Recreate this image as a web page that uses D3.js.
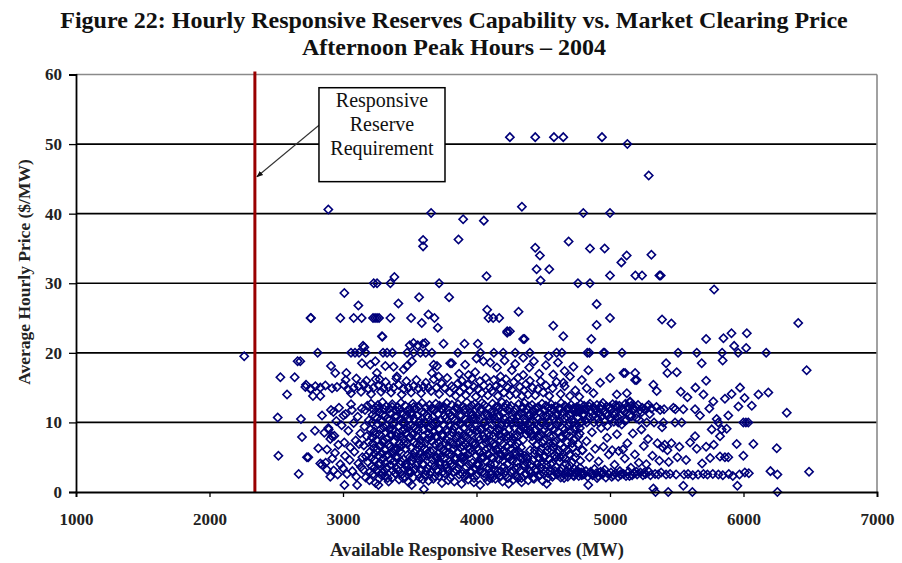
<!DOCTYPE html>
<html>
<head>
<meta charset="utf-8">
<script src="https://cdn.jsdelivr.net/npm/d3@7"></script>
<style>
  body { margin: 0; background: #fff; }
  text { font-family: "Liberation Serif", "Times New Roman", serif; }
</style>
</head>
<body>
<div id="chart"></div>
<script>
// values: [available reserves (MW), price ($/MW)]
var highPrices = [
  [4250,51],[4440,51],[4580,51],[4650,51],[4940,51],[5130,50],[5290,45.5],
  [2890,40.6],[3660,40.1],[3900,39.2],[4055,39],[4340,41],[3600,36.2],[3600,35.3],[3865,36.3],
  [4440,35.1],[4475,34],[4690,36],[4450,32],[4545,32],[4480,30.4],[4075,31],[4800,40.1],[5000,40.1],
  [4850,35],[4960,35],[5125,34],[5085,33],[5310,34.1],[5000,31.1],[5190,31.1],[5240,31.1],[5370,31.1],
  [5380,31.1],[4760,30],[4850,30],[5780,29.1],[4900,27],[3230,30],[3255,30],[3355,30],[3385,30.9],
  [3720,30],[3010,28.6],[3115,26.8],[3415,27.1],[3570,28],[3795,28]
];
var midPrices = [
  [5000,25],[4900,24],[5390,24.8],[5460,24.2],[6410,24.3],[4650,22.4],[4860,22],[5720,22],[5850,22.1],
  [5910,22.8],[6025,22.8],[5930,21],[6020,20.7],[2760,25],[2980,25],[3080,25],[3140,25],[3225,25],
  [3240,25],[3255,25],[3270,25],[3355,25],[3510,25],[3590,24.3],[3640,25.5],[3685,25],[3710,23.6],
  [4080,26.2],[4090,25],[4125,25],[4170,25],[4315,25.9],[4230,23.1],[4250,23.1],[4350,22],[4575,23.9],
  [3295,22.3],[3160,20.8],[4230,22.9],[4360,22],[3910,21.3],[4010,21.3],[3292,22.4],[3150,21],
  [3500,21.1],[3560,21.1],[3528,21.4],[3599,21.3],[3616,21.4],[3753,21.3],
  [2260,19.5],[2810,20],[3860,20],[4030,20],[4130,20],[4200,20],[4290,20],[4400,20],[4600,20],
  [4640,20],[4830,20],[4846,20],[4951,20],[4960,20],[5090,20],[5510,20],[5650,20],[5840,20],[5960,20],
  [6170,20],[3060,20],[3090,20],[3120,20],[3170,20],[3300,20],[3330,20],[3370,20],[3480,20],[3530,20],
  [3580,20],[3620,20],[3666,20]
];
var upperBand = [
  [2910,18.1],[2942,17.1],[3025,17.1],[3142,18.5],[3204,18.3],[3242,18.8],[3254,17.1],[3317,18.1],
  [3379,18],[3454,17.6],[3479,18.1],[3516,18.8],[3679,18.3],[3704,18.1],[3803,18.5],[3274,16.2],
  [3404,16.6],[3716,16.6],[3666,17.1],[3816,18.5],[3915,18.3],[3990,17.2],[4052,18.8],[4103,18.6],
  [4153,17.9],[4210,18.9],[4265,17.5],[4290,18.4],[4350,16.8],[4395,17.9],[4430,18.8],[4470,17],
  [4520,18.2],[4575,16.9],[4610,18.6],[4660,17.4],[4700,16.6],[4726,18],[4838,17.5],[4789,16.1],
  [4826,14.9],[4926,15.7],[5001,16.4],[5113,17.1],[5200,16.1],[5126,14.2],[5051,14],[4876,14.2],
  [4651,15.7],[3870,17],[3940,16.8],[4180,16.6],[4000,19.2],[4350,19.3],[4540,19.5],[5101,17.1],
  [5188,17.1],[5188,16.1],[5325,15.4],[5350,14.5],[5150,13],[5420,18.5],[5430,17.1],[5500,17.2],
  [5687,18.5],[5844,18.9],[5720,16],[6473,17.5],[5774,13],[5861,13.4],[5911,14.1],[5974,15],
  [6112,14],[6186,14.3],[6008,13.5],[5580,13.6],[5640,15],[5530,14.4],[5700,14]
];
var band15 = [
  [2718,15.1],[2755,14.8],[2793,15.2],[2830,15],[2868,15.3],[2918,14.9],[2955,15.1],[3005,15.4],
  [3042,14.7],[3080,15],[3117,15.2],[3154,15.5],[3192,14.8],[3229,15],[3267,15.3],[3304,14.9],
  [3342,15.1],[3379,15],[3416,15.4],[3454,14.8],[3491,15],[3529,15.2],[3566,14.9],[3603,15.1],
  [3641,15],[3020,16.1],[3060,14.2],[3100,16.3],[3135,14.4],[3175,16],[3210,14.1],[3245,16.2],
  [3285,14.4],[3320,15.8],[3360,14.3],[3400,16.3],[3440,14],[3475,15.9],[3510,14.3],[3550,16.1],
  [3585,14.2],[3620,15.7],[3660,14.5],[3680,16.2],[3700,15],[3720,14.1],[3740,15.6],[3760,15],
  [3780,16.4],[3800,14.3],[3815,15.2],[3830,14.9],[3845,13.8],[3860,15.6],[3875,14.4],[3890,16],
  [3905,15],[3920,13.9],[3935,15.4],[3950,14.6],[3965,16.3],[3980,15.1],[3995,13.7],[4010,14.8],
  [4025,15.9],[4040,14.2],[4055,15.3],[4070,16.4],[4085,13.9],[4100,15],[4115,14.5],[4130,16.1],
  [4145,15.2],[4160,13.8],[4175,14.9],[4190,15.7],[4205,14.3],[4220,16.2],[4235,15],[4250,13.9],
  [4265,14.7],[4280,15.8],[4295,14.1],[4310,16.4],[4325,15.1],[4340,13.8],[4355,14.6],[4370,15.5],
  [4385,14],[4400,16],[4420,15],[4440,13.9],[4460,14.8],[4480,15.9],[4500,14.3],[4520,15.3],
  [4545,13.8],[4570,14.9],[4600,15.8],[4630,14.1],[4660,15.2],[4700,13.8],[4740,14.6],[4770,13.7]
];
var westSide = [
  [2511,10.7],[2516,5.2],[2531,16.5],[2581,14],[2638,16.5],[2660,18.8],[2680,18.8],[2668,2.6],
  [2685,10.5],[2693,7.9],[2723,15.4],[2730,5],[2740,5],[2757,25],[2760,14.8],[2775,13.8],[2830,13.8],
  [2843,11],[2843,3.9],[2790,8.8],[2815,6.3],[2830,4.1],[2880,3.2],[2905,2.2],[2893,9],[2918,8],
  [2860,8.5],[2870,4.2],[2880,6.1],[2890,9.2],[2905,7.6],[2910,11.8],[2920,4.8],[2930,3.1],
  [2935,8.1],[2940,5.6],[2950,10.2],[2960,2.5],[2965,6.8],[2970,12.1],[2980,4],[2990,9.6],[3011,1],
  [3000,3.4],[3010,7.1],[3015,5.2],[3020,11.2],[3030,2.6],[3040,8.8],[3050,4.6],[3055,6.4],[3060,12.6],
  [3070,3],[3080,9.9],[3085,5.8],[3106,1],[3095,7.4],[3100,2.2],[3110,10.8],[3115,4.1],[3120,6.9],
  [3130,8.4],[3135,3.6],[3140,12],[3145,5],[2928,11.5],[3003,11],[3067,11.8]
];
var denseCore = [
  [3152,3.2],[3156,6.7],[3161,9.4],[3165,11.8],[3170,2.1],[3173,5.1],[3178,8],[3182,12.4],[3187,4.3],[3190,7.2],[3194,10.3],[3198,1.7],
  [3202,5.8],[3206,9],[3210,12.7],[3214,3.7],[3218,7.9],[3222,11.1],[3226,2.6],[3229,6.3],[3233,8.7],[3237,4.6],[3241,10.8],[3244,1.3],[3248,12.1],[3236,5.5],
  [3252,7.4],[3255,3],[3259,9.8],[3262,12.5],[3266,5.2],[3270,1.9],[3273,8.3],[3277,11.4],[3281,4.1],[3284,6.8],[3288,10.1],[3292,2.8],[3295,12.9],[3298,7.1],[3265,1],
  [3301,4.8],[3305,9.3],[3308,11.9],[3312,2.3],[3316,6],[3320,8.6],[3323,12.3],[3327,3.5],[3331,7.7],[3334,10.6],[3338,5.4],[3342,1.5],[3345,9],[3348,12],[3318,4.2],
  [3351,6.5],[3355,3.9],[3358,11.2],[3362,8.1],[3366,2],[3369,12.6],[3373,5.7],[3377,9.7],[3380,4.4],[3384,7.3],[3388,10.9],[3391,2.7],[3395,6.1],[3398,11.7],[3370,8.9],
  [3402,3.3],[3405,8.4],[3409,12.2],[3412,5],[3416,9.5],[3420,1.8],[3423,7],[3427,10.4],[3431,4],[3434,12.8],[3438,6.6],[3441,2.5],[3445,8.8],[3448,11.3],[3425,5.9],
  [3451,7.6],[3455,4.7],[3458,10],[3462,2.2],[3466,12.4],[3469,6.2],[3473,8.5],[3477,3.6],[3480,11.6],[3484,5.3],[3487,9.2],[3491,1.4],[3495,7.8],[3498,12],[3476,4.1],
  [3502,3],[3506,9.6],[3509,6.4],[3513,11.5],[3515,1],[3516,4.5],[3520,8.2],[3523,12.7],[3527,2.1],[3531,7.1],[3534,10.5],[3538,5.6],[3545,9.1],[3548,3.8],[3530,12.2],
  [3552,6.9],[3556,11],[3559,4.2],[3562,8.9],[3566,2.6],[3570,12.3],[3573,5.5],[3577,10.2],[3580,7.5],[3584,3.1],[3588,9.8],[3591,12.8],[3595,5],[3598,1.8],[3575,6.7],
  [3602,8],[3605,4],[3609,11.4],[3612,6.3],[3616,2.4],[3620,9.9],[3623,12.1],[3627,5.2],[3631,7.6],[3634,3.4],[3638,10.7],[3641,1.6],[3645,8.4],[3648,12.5],[3606,0.4],[3625,6],
  [3652,5.9],[3656,9.3],[3659,2.9],[3662,12],[3666,7.3],[3670,4.6],[3673,10.8],[3677,1.9],[3680,8.6],[3684,11.7],[3688,3.7],[3691,6.8],[3695,12.7],[3698,5.1],[3672,9.6],
  [3702,3.2],[3705,7.9],[3709,11.2],[3712,5.5],[3716,9.1],[3720,2.3],[3723,12.4],[3727,6.5],[3731,4.3],[3734,10.3],[3738,8.2],[3741,1.3],[3745,11.9],[3748,6],[3725,3.9],
  [3752,9.7],[3756,4.8],[3759,12.2],[3762,2.7],[3766,7],[3770,10.6],[3773,5.8],[3777,12.8],[3780,3.5],[3784,8.7],[3788,1.7],[3791,6.6],[3795,11.3],[3798,4.4],[3776,9],
  [3802,7.2],[3805,2],[3809,10.9],[3812,5.3],[3816,12.5],[3820,8.5],[3823,3.8],[3827,11.6],[3831,6.2],[3834,1.5],[3838,9.4],[3841,4.7],[3845,12.1],[3848,7.7],[3826,6.9],
  [3852,3.1],[3856,10.1],[3859,5.7],[3862,12.6],[3866,8.1],[3870,2.5],[3873,11],[3877,6.4],[3880,4.1],[3884,9.8],[3888,1.2],[3891,7.4],[3895,12.3],[3898,5],[3872,8.8],
  [3902,9.2],[3905,4.5],[3909,11.8],[3912,2.2],[3916,6.9],[3920,10.4],[3923,3.6],[3927,12.9],[3931,7.8],[3934,5.4],[3938,1.8],[3941,9.9],[3945,12],[3948,6.1],[3922,8],
  [3952,5.6],[3956,11.4],[3959,2.8],[3962,8.3],[3966,12.4],[3970,4.2],[3973,7.1],[3977,10.7],[3980,1.4],[3984,6.7],[3988,12.7],[3991,3.3],[3995,9.5],[3998,5.2],[3974,11.1],
  [4002,2.4],[4005,8.9],[4009,12.2],[4012,6],[4016,3.9],[4020,10.5],[4023,7.5],[4027,1],[4031,11.7],[4034,4.9],[4038,9.1],[4041,12.8],[4045,2.9],[4048,6.8],[4025,5.6],
  [4052,10],[4056,5],[4059,12.5],[4062,7.7],[4066,2.1],[4070,9.4],[4073,4.4],[4077,11.2],[4080,6.3],[4084,1.6],[4088,8.5],[4091,12],[4095,3.4],[4098,10.9],[4074,7],
  [4102,4],[4105,7.3],[4109,11.5],[4112,2.6],[4116,9.7],[4120,12.7],[4123,5.9],[4127,8],[4131,3.2],[4134,10.6],[4138,6.6],[4141,1.9],[4145,12.2],[4148,8.7],[4126,4.8],
  [4152,6.1],[4156,10.8],[4159,3],[4162,12.3],[4166,8.2],[4170,4.7],[4173,11],[4177,2.2],[4180,7.4],[4184,9.6],[4188,5.3],[4191,12.9],[4195,1.5],[4198,6.9],[4172,8.9],
  [4202,11.4],[4205,3.6],[4209,8.6],[4212,5.6],[4216,12.1],[4220,2.4],[4223,9.9],[4227,6.5],[4231,4],[4234,11.8],[4238,7.8],[4241,1.2],[4245,10.2],[4248,5],[4224,12.6],
  [4252,8],[4256,2.9],[4259,12.4],[4262,6.2],[4266,10.5],[4270,4.5],[4273,7.6],[4277,1.8],[4280,11.6],[4284,9.2],[4288,3.4],[4291,6.7],[4295,12],[4298,5.4],[4272,9.9],
  [4302,4.3],[4305,10.9],[4309,7],[4312,2],[4316,12.6],[4320,5.8],[4323,8.8],[4327,3.1],[4331,11.3],[4334,6.4],[4338,1.4],[4341,9.5],[4345,12.2],[4348,4.9],[4325,10],
  [4352,9.1],[4356,3.7],[4359,12.8],[4362,5.2],[4366,10.4],[4370,2.5],[4373,8.3],[4377,11.9],[4380,4.1],[4384,9.8],[4388,1.7],[4391,12.3],[4395,3],[4398,8.9],[4374,5],
  [4402,6],[4405,11.1],[4409,2.7],[4412,8.4],[4416,12.5],[4420,4.6],[4423,7.3],[4427,10.2],[4431,1.9],[4434,5.5],[4438,12],[4441,9],[4445,3.3],[4448,6.8],[4428,11.6],
  [4452,10.7],[4456,4],[4459,7.9],[4462,12.2],[4466,2.3],[4470,9.3],[4473,5.7],[4477,11.4],[4480,3.5],[4484,8.1],[4488,6.2],[4491,12.7],[4495,1.6],[4498,10],[4474,4.8],
  [4502,7.4],[4505,2.6],[4509,11.7],[4512,5.1],[4516,9.6],[4520,12.4],[4523,3.9],[4527,6.6],[4531,10.8],[4534,2],[4538,8.5],[4541,12.1],[4545,4.7],[4548,7],[4526,1.2],
  [4552,3],[4556,9.4],[4559,12.6],[4562,6],[4566,4.2],[4570,10.9],[4573,8],[4577,2.4],[4580,11.8],[4584,5.3],[4588,7.2],[4591,12.3],[4595,3.6],[4598,9.7],[4574,6.5],
  [4602,11.2],[4605,5.6],[4609,2.8],[4612,8.7],[4616,12],[4620,4.4],[4623,10.1],[4627,6.9],[4631,2.1],[4634,12.8],[4638,7.8],[4641,3.4],[4645,9.2],[4648,11.5],[4626,5],
  [4652,6.3],[4656,2.5],[4659,10.6],[4662,12.4],[4666,4.8],[4670,8.2],[4673,3],[4677,11.9],[4680,7.1],[4684,2.2],[4688,9.5],[4691,12.1],[4695,5.4],[4698,3.8],[4674,10.9],
  [4702,8.8],[4705,2.7],[4709,12.5],[4712,4.2],[4716,10.4],[4720,6.4],[4723,2.4],[4727,11.6],[4731,7.6],[4734,3.3],[4738,12],[4741,9.3],[4745,2.6],[4748,5.6],[4726,10],
  [4752,12.2],[4756,3.1],[4759,10.8],[4762,6.9],[4766,2.3],[4770,11.5],[4773,8.4],[4777,4.5],[4780,12.6],[4784,2.8],[4788,10.1],[4791,6],[4795,11.9],[4798,2.5],[4774,9.2]
];
var denseCoreMore = [
  [3204,2.9],[3211,4.9],[3217,10],[3223,7],[3230,11.8],[3236,3.5],[3243,8.2],[3249,6],[3256,10.6],[3262,4],[3268,12],[3275,6.6],[3281,9],[3288,2.4],[3294,5.5],[3299,11.1],
  [3303,7.4],[3309,3],[3316,11],[3322,5.2],[3329,9.6],[3335,2],[3342,6.9],[3348,10.3],[3355,4.6],[3361,8.3],[3368,12.2],[3374,3.1],[3381,6.1],[3387,10],[3394,5],[3399,8],
  [3404,10.9],[3410,6.2],[3417,3],[3423,11.8],[3430,8],[3436,4.4],[3443,10],[3449,2],[3456,7],[3462,9],[3469,4],[3475,11],[3482,6.9],[3488,2.9],[3495,10.5],[3499,5],
  [3504,7.9],[3510,2.8],[3517,11],[3523,5],[3530,9.3],[3536,3.2],[3543,12],[3549,6],[3556,8],[3562,4.9],[3569,10],[3575,2],[3582,7],[3588,11.5],[3595,4],[3599,9],
  [3604,5.2],[3610,10],[3617,7],[3623,3],[3630,11],[3636,5.5],[3643,9.2],[3649,2.5],[3656,7.9],[3662,4],[3669,12],[3675,6],[3682,10],[3688,2.3],[3695,8],[3699,4.9],
  [3704,10],[3710,3],[3717,7],[3723,9],[3730,5],[3736,12],[3743,2.8],[3749,8],[3756,6],[3762,11],[3769,4],[3775,7.5],[3782,10.2],[3788,3],[3795,5.6],[3799,9.5],
  [3804,4],[3810,11],[3817,6],[3823,9],[3830,2.9],[3836,10.3],[3843,5],[3849,8],[3856,12],[3862,3.5],[3869,7],[3875,9.9],[3882,5],[3888,11],[3895,2.6],[3899,6.6],
  [3904,8],[3910,5],[3917,12],[3923,2.6],[3930,10],[3936,6.5],[3943,4],[3949,8.6],[3956,3],[3962,11],[3969,5.9],[3975,9],[3982,2],[3988,7],[3995,10.5],[3999,4],
  [4004,11],[4010,4],[4017,7.9],[4023,3],[4030,9],[4036,12],[4043,5],[4049,8],[4056,2.7],[4062,10],[4069,6],[4075,3.5],[4082,11],[4088,5.5],[4095,8],[4099,2],
  [4104,9],[4110,5],[4117,2],[4123,11],[4130,7],[4136,4],[4143,10],[4149,6],[4156,2.5],[4162,9],[4169,12],[4175,5.5],[4182,3],[4188,8],[4195,10],[4199,4.5],
  [4204,6],[4210,10.5],[4217,3],[4223,8],[4230,5],[4236,2],[4243,9],[4249,12],[4256,4.6],[4262,7],[4269,11],[4275,3],[4282,8],[4288,5.8],[4295,10],[4299,2.2],
  [4304,8],[4310,3.5],[4317,11],[4323,5],[4330,9],[4336,2],[4343,12],[4349,7.5],[4356,4],[4362,10],[4369,2.7],[4375,9],[4382,4.8],[4388,11],[4395,8.5],[4399,3],
  [4404,10],[4410,4],[4417,8],[4423,2],[4430,11],[4436,6],[4443,9],[4449,3],[4456,12],[4462,5],[4469,8],[4475,2.5],[4482,10],[4488,4],[4495,7],[4499,11],
  [4504,5],[4510,9],[4517,3],[4523,11],[4530,6],[4536,2.7],[4543,10],[4549,8],[4556,4],[4562,12],[4569,2.2],[4575,7],[4582,9],[4588,3],[4595,11],[4599,5],
  [4604,2.5],[4610,10],[4617,6],[4623,12],[4630,3],[4636,8],[4643,11],[4649,5],[4656,2],[4662,9],[4669,4],[4675,12],[4682,6],[4688,2.8],[4695,10],[4699,8],
  [4704,11],[4710,3],[4717,7],[4723,12],[4730,2.3],[4736,9],[4743,5],[4749,11.5],[4756,2.9],[4762,8],[4769,12],[4775,3.5],[4782,10],[4788,2.4],[4795,6],[4799,11]
];
var eastSide = [
  [4802,11.2],[4806,12.4],[4810,2.6],[4815,10.3],[4820,3],[4824,7.3],[4829,12],[4833,2.2],[4837,1],[4841,10.8],[4846,5],
  [4850,12.7],[4855,2.9],[4860,11.5],[4865,8.6],[4870,2.4],[4875,12.2],[4880,10],[4884,3.3],[4889,6.2],[4893,11.7],[4897,2.7],
  [4902,12.5],[4906,10.6],[4911,2.3],[4915,4.4],[4920,11.3],[4924,12],[4929,2.9],[4933,9.2],[4938,10.9],[4942,2.5],[4947,12.8],
  [4951,6.5],[4955,11.6],[4960,3.2],[4964,10.2],[4969,2.1],[4973,12.3],[4978,7.8],[4982,11],[4987,2.6],[4991,5.4],[4996,12.1],
  [5002,10.5],[5007,2.8],[5011,11.9],[5016,6],[5020,12.6],[5025,2.4],[5029,10.1],[5034,3.9],[5038,11.4],[5043,2.7],[5047,12.2],
  [5052,8.3],[5056,10.8],[5061,2.2],[5065,5.9],[5070,12.4],[5074,3],[5079,11.1],[5083,2.5],[5088,9.7],[5092,12],[5097,6.1],
  [5102,2.6],[5107,11.6],[5111,4.8],[5116,12.7],[5120,2.3],[5125,10.4],[5130,7],[5135,12.1],[5140,2.9],[5145,11],[5150,12.9],
  [5156,3.5],[5160,12.4],[5166,2.4],[5171,8.4],[5176,11.8],[5181,2.7],[5186,5.4],[5192,12.2],[5197,10.6],
  [5203,2.5],[5210,12.5],[5216,4.2],[5222,11.7],[5228,2.8],[5235,9],[5241,12.1],[5247,2.4],[5253,6.6],[5260,11.9],
  [5266,2.6],[5272,4],[5279,12.3],[5285,7.6],[5292,2.9],[5298,11.2],
  [5303,2.4],[5310,12],[5318,5.2],[5325,0.5],[5330,10],[5338,2.6],[5341,0],[5348,12.2],[5355,7],[5362,2.5],[5370,4.5],
  [5376,11.8],[5383,2.8],[5390,9.3],[5396,6.4],
  [4812,11.9],[4826,10],[4844,12.3],[4858,2.6],[4872,10.9],[4886,12],[4903,2],[4917,10],[4935,12.4],[4949,2.8],
  [4966,11.2],[4980,9.5],[4998,12.2],[5013,2.2],[5031,11],[5045,12.5],[5062,10],[5078,2.5],[5095,11.8],[5112,10.2],
  [5128,12.3],[5146,2.3],[5163,10.9],[5180,12],[5199,2.9],[5218,10.4],[5238,11.5],[5257,2.8],[5275,10],[5290,12.5]
];
var farEast = [
  [5400,10],[5405,11.9],[5410,6.8],[5420,2.5],[5430,6],[5436,0],[5440,4.3],[5450,2.6],[5460,7],[5475,12.1],[5487,10],
  [5490,11.9],[5495,2.5],[5505,5],[5520,6.5],[5537,10],[5549,11.9],[5549,0.9],[5555,2.5],[5570,4.6],[5585,2.6],[5600,7.1],
  [5617,0],[5620,2.4],[5637,11.9],[5637,8],[5650,6.2],[5660,2.5],[5674,11],[5690,4.1],[5700,2.6],[5720,6.5],[5730,2.5],
  [5744,12],[5750,4.9],[5762,9],[5770,2.6],[5777,6.8],[5799,10.5],[5811,10],[5812,2.5],[5824,8],[5824,5.1],[5837,9],
  [5845,2.4],[5861,5],[5874,9.1],[5886,5],[5886,11],[5890,2.6],[5920,2.3],[5949,6.9],[5954,0.9],[5962,12.3],[5970,2.5],
  [5999,10],[5999,5.2],[6010,2.8],[6036,10],[6040,2.7],[6062,12.4],[6074,6.9],[6018,10],[6202,3],[6254,2.5],[6249,6.3],
  [6254,0],[6324,11.4],[6491,2.9]
];
var xTicks = [1000, 2000, 3000, 4000, 5000, 6000, 7000];
var yTicks = [0, 10, 20, 30, 40, 50, 60];
var requirementMW = 2340;

var titleLines = ["Figure 22:  Hourly Responsive Reserves Capability vs. Market Clearing Price",
                  "Afternoon Peak Hours \u2013 2004"];
var noteLines = ["Responsive", "Reserve", "Requirement"];

// set the dimensions and margins of the graph
var margin = {top: 74.5, right: 25, bottom: 71, left: 76},
    width = 902 - margin.left - margin.right,
    height = 563 - margin.top - margin.bottom;

var root = d3.select("#chart")
  .append("svg")
    .attr("width", 902)
    .attr("height", 563)
    .style("background", "#fff");

var svg = root.append("g")
    .attr("transform", "translate(" + margin.left + "," + margin.top + ")");

var x = d3.scaleLinear().domain([1000, 7000]).range([0, width]);
var y = d3.scaleLinear().domain([0, 60]).range([height, 0]);

// title
root.selectAll(".title")
  .data(titleLines)
  .enter().append("text")
    .attr("x", 454)
    .attr("y", function(d, i) { return 28 + i * 27; })
    .attr("text-anchor", "middle")
    .style("font-size", "24px")
    .style("font-weight", "bold")
    .attr("fill", "#111")
    .text(function(d) { return d; });

// horizontal grid lines
svg.selectAll(".grid")
  .data(yTicks.filter(function(d) { return d > 0; }))
  .enter().append("line")
    .attr("x1", 0).attr("x2", width)
    .attr("y1", function(d) { return y(d); })
    .attr("y2", function(d) { return y(d); })
    .attr("stroke", function(d) { return d == 60 ? "#8a8a8a" : "#000"; })
    .attr("stroke-width", 1.6);

// right border
svg.append("line")
  .attr("x1", width).attr("x2", width)
  .attr("y1", 0).attr("y2", height)
  .attr("stroke", "#8a8a8a").attr("stroke-width", 1.6);

// points
var allPoints = [].concat(highPrices, midPrices, upperBand, band15, westSide, denseCore, denseCoreMore, eastSide, farEast);
var diamond = d3.symbol().type(d3.symbolSquare).size(34);
svg.append("g")
  .selectAll("path")
  .data(allPoints)
  .enter().append("path")
    .attr("d", diamond)
    .attr("transform", function(d) { return "translate(" + x(d[0]) + "," + y(d[1]) + ") rotate(45)"; })
    .attr("fill", "none")
    .attr("stroke", "#00007a")
    .attr("stroke-width", 1.6);

// requirement line
svg.append("line")
  .attr("x1", x(requirementMW)).attr("x2", x(requirementMW))
  .attr("y1", -3).attr("y2", height)
  .attr("stroke", "#990000").attr("stroke-width", 3);

// axes
var xAxis = svg.append("g")
  .attr("transform", "translate(0," + height + ")")
  .call(d3.axisBottom(x).tickValues(xTicks).tickFormat(d3.format("d")).tickSizeOuter(0).tickSize(5).tickPadding(16));
var yAxis = svg.append("g")
  .call(d3.axisLeft(y).tickValues(yTicks).tickSizeOuter(0).tickSize(7).tickPadding(7));

[xAxis, yAxis].forEach(function(a) {
  a.select(".domain").attr("stroke", "#000").attr("stroke-width", 1.8);
  a.selectAll(".tick line").attr("stroke", "#000").attr("stroke-width", 1.3);
  a.selectAll("text")
    .style("font-family", "'Liberation Serif', serif")
    .style("font-size", "17px")
    .style("font-weight", "bold")
    .attr("fill", "#222");
});

// axis titles
root.append("text")
  .attr("x", 477).attr("y", 556)
  .attr("text-anchor", "middle")
  .style("font-size", "18.5px").style("font-weight", "bold").attr("fill", "#222")
  .text("Available Responsive Reserves (MW)");
root.append("text")
  .attr("transform", "translate(30,272) rotate(-90)")
  .attr("text-anchor", "middle")
  .style("font-size", "17.5px").style("font-weight", "bold").attr("fill", "#222")
  .text("Average Hourly Price ($/MW)");

// annotation box with arrow
var boxX0 = x(2820), boxX1 = x(3764), boxY0 = y(58.1), boxY1 = y(44.6);
root.append("defs").append("marker")
  .attr("id", "head")
  .attr("viewBox", "0 0 10 10").attr("refX", 9).attr("refY", 5)
  .attr("markerWidth", 6).attr("markerHeight", 6).attr("orient", "auto")
  .append("path").attr("d", "M0,1L10,5L0,9Z").attr("fill", "#111");
svg.append("line")
  .attr("x1", boxX0).attr("y1", y(52.7))
  .attr("x2", x(requirementMW) + 2).attr("y2", y(45.3))
  .attr("stroke", "#333").attr("stroke-width", 1.1)
  .attr("marker-end", "url(#head)");
svg.append("rect")
  .attr("x", boxX0).attr("y", boxY0)
  .attr("width", boxX1 - boxX0).attr("height", boxY1 - boxY0)
  .attr("fill", "#fff").attr("stroke", "#000").attr("stroke-width", 1.5);
svg.selectAll(".note")
  .data(noteLines)
  .enter().append("text")
    .attr("x", (boxX0 + boxX1) / 2)
    .attr("y", function(d, i) { return boxY0 + 19 + i * 24; })
    .attr("text-anchor", "middle")
    .style("font-size", "20px")
    .attr("fill", "#111")
    .text(function(d) { return d; });
</script>
</body>
</html>
